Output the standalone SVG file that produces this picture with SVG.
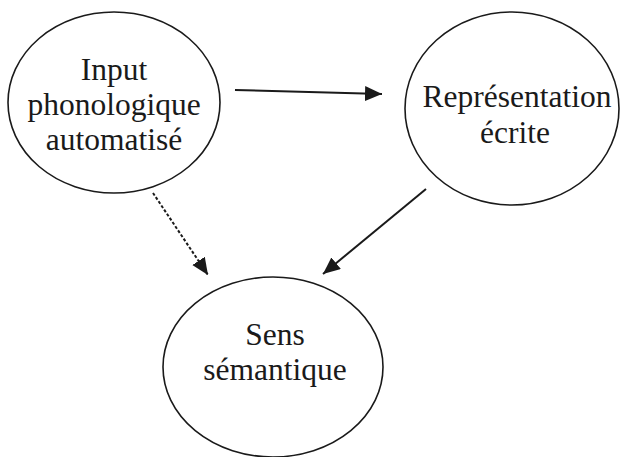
<svg xmlns="http://www.w3.org/2000/svg" width="620" height="457" viewBox="0 0 620 457">
<style>
.node ellipse{fill:#fff;stroke:#1a1a1a;stroke-width:1.6}
.node text{font-family:"Liberation Serif","Times New Roman",serif;font-size:31.5px;fill:#1a1a1a;text-anchor:middle}
.edge{stroke:#1a1a1a;stroke-width:2;fill:none}
.dotted{stroke-dasharray:3 2}
</style>
<defs>
<marker id="arr" markerUnits="userSpaceOnUse" markerWidth="18" markerHeight="16" refX="17" refY="7.5" orient="auto">
<path d="M0,0 L17,7.5 L0,15 z" fill="#1a1a1a"/>
</marker>
</defs>
<rect width="620" height="457" fill="#fff"/>
<g id="connectors">
<line class="edge" x1="235" y1="90" x2="382" y2="94" marker-end="url(#arr)"/>
<line class="edge" x1="426" y1="189" x2="323" y2="274" marker-end="url(#arr)"/>
<line class="edge dotted" x1="153" y1="193" x2="208" y2="275" marker-end="url(#arr)"/>
</g>
<g id="input" class="node">
<ellipse cx="114" cy="102.5" rx="106" ry="90.5"/>
<text x="114" y="80">Input</text>
<text x="114" y="115">phonologique</text>
<text x="114" y="150">automatisé</text>
</g>
<g id="representation" class="node">
<ellipse cx="512" cy="108.5" rx="107" ry="96.5"/>
<text x="517" y="107">Représentation</text>
<text x="515" y="143">écrite</text>
</g>
<g id="sens" class="node">
<ellipse cx="273" cy="367" rx="110" ry="90"/>
<text x="275" y="345">Sens</text>
<text x="275" y="380">sémantique</text>
</g>
</svg>
